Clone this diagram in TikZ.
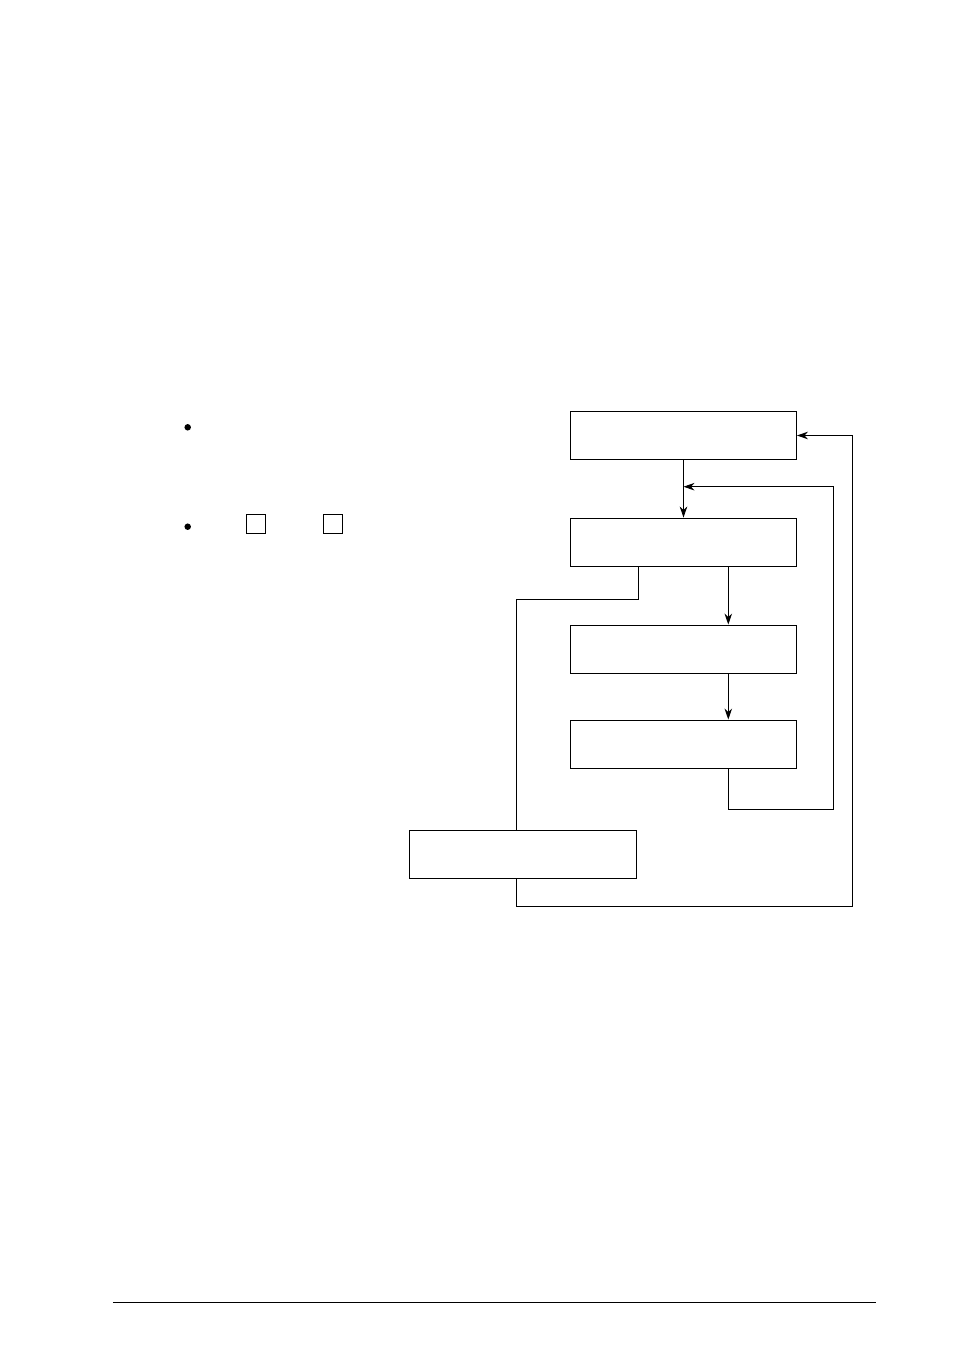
\documentclass[tikz,border=0pt]{standalone}
\usepackage{amsmath}
\usepackage{tikz}
\usetikzlibrary{arrows.meta,positioning}

\begin{document}
\begin{tikzpicture}[scale=0.2, line width=0.5pt,
  >={Stealth[length=2.2mm,width=1.5mm,inset=0.7mm]},
  stage/.style={draw, minimum width=4.52cm, minimum height=0.96cm},
  tick/.style={draw, minimum size=0.38cm},
  dot/.style={circle, fill, minimum size=0.13cm}]
\tikzstyle{every node}+=[inner sep=0pt]
\useasboundingbox (0,0) rectangle (95.4,-135.1);
% list on the left
\node [dot] (d1) at (18.77,-42.73) {};
\node [dot] (d2) at (18.77,-52.67) {};
\node [tick] (t1) at (25.6,-52.38) {};
\node [tick] (t2) at (33.3,-52.38) {};
% flow boxes
\node [stage] (s1) at (68.35,-43.55) {};
\node [stage] (s2) at (68.35,-54.2) {};
\node [stage] (s3) at (68.35,-64.9) {};
\node [stage] (s4) at (68.35,-74.4) {};
\node [stage, minimum width=4.54cm] (s5) at (52.3,-85.4) {};
% corner points of the wires
\coordinate (rx) at (72.83,0);
\coordinate (dx) at (63.83,0);
\coordinate (lx) at (51.63,-59.93);
\coordinate (merge) at (68.35,-48.67);
\coordinate (inner) at (83.33,-80.9);
\coordinate (outer) at (85.23,-90.6);
\draw [->] (s1.south) -- (s2.north);
\draw [->] (s2.south -| rx) -- (s3.north -| rx);
\draw [->] (s3.south -| rx) -- (s4.north -| rx);
\draw [->] (s4.south -| rx) |- (inner) |- (merge);
\draw (s2.south -| dx) |- (lx) -- (s5.north -| lx);
\draw [->] (s5.south -| lx) |- (outer) |- (s1.east);
% footer rule
\coordinate (fl) at (11.3,-130.2);
\coordinate (fr) at (87.6,-130.2);
\draw (fl) -- (fr);
\end{tikzpicture}
\end{document}
